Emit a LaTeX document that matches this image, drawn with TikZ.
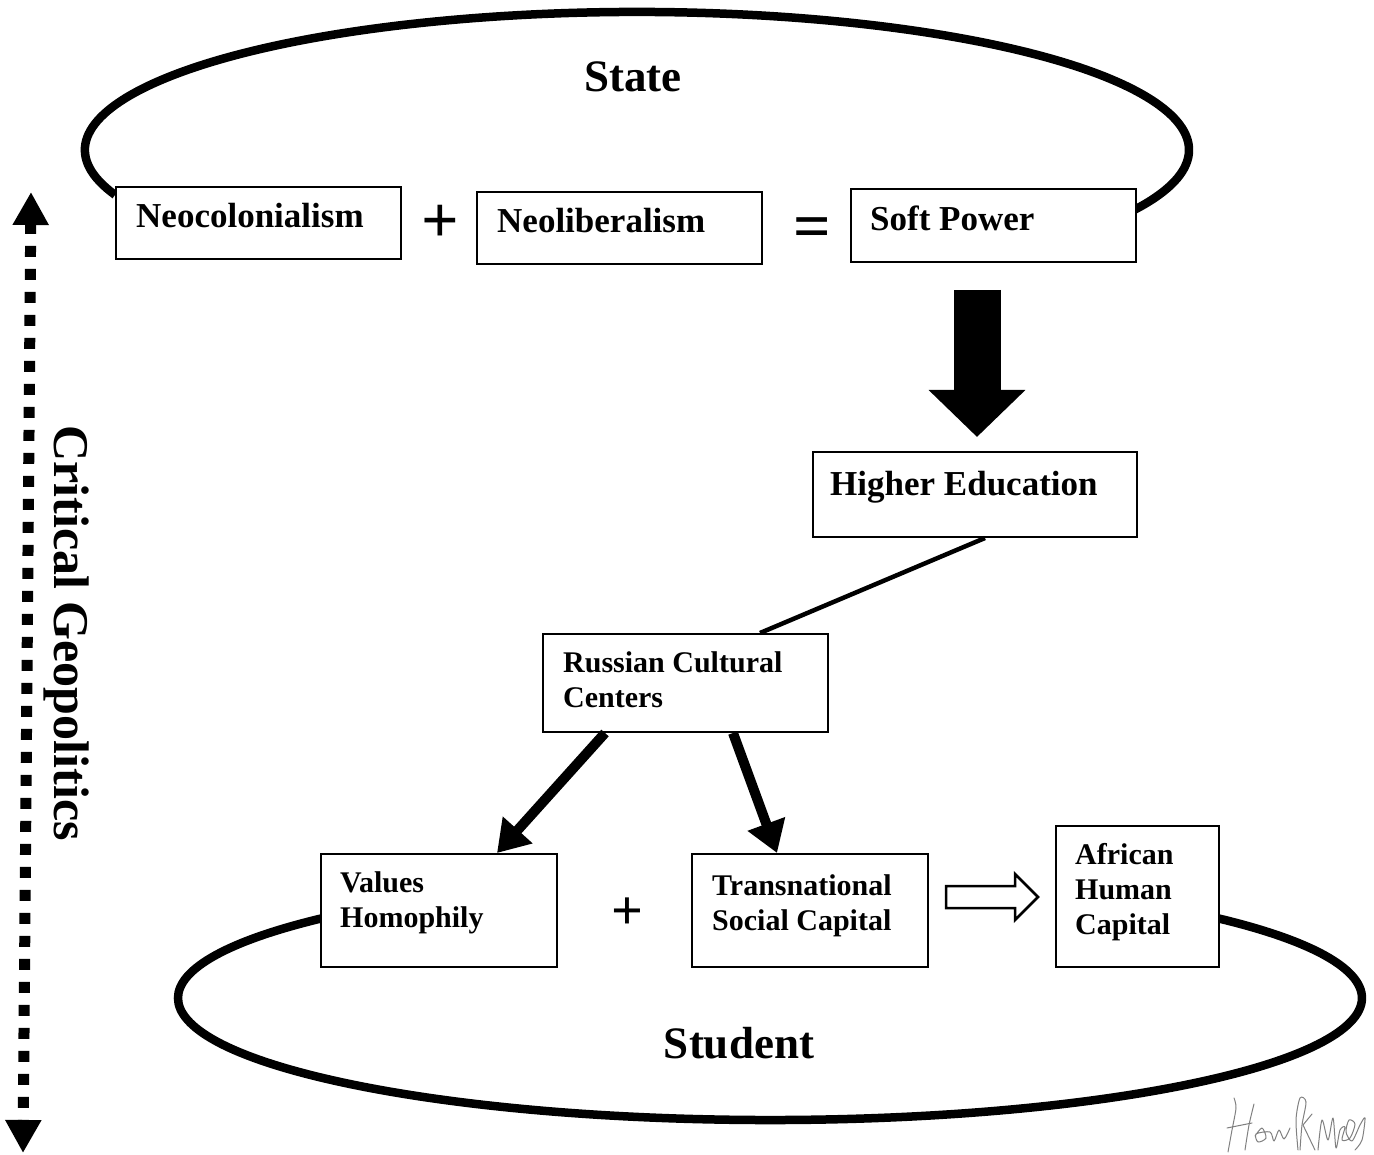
\documentclass[tikz,border=0pt]{standalone}
\usepackage{fontspec}
\setmainfont{Liberation Serif}
\usetikzlibrary{arrows.meta}
\begin{document}
\begin{tikzpicture}[x=1pt,y=-1pt,
  box/.style={draw, fill=white, line width=2pt, inner sep=0pt, anchor=north west},
  lbl/.style={inner sep=0pt, align=left, font=\fontsize{35pt}{40pt}\selectfont\bfseries},
  lbls/.style={inner sep=0pt, align=left, anchor=north west, font=\fontsize{30pt}{35pt}\selectfont\bfseries},
  big/.style={inner sep=0pt, anchor=base, font=\fontsize{45pt}{50pt}\selectfont\bfseries},
  op/.style={inner sep=0pt, anchor=base, font=\fontsize{66pt}{66pt}\selectfont\bfseries},
  ring/.style={line width=8.5pt},
  thickarrow/.style={line width=10pt, -{Triangle[length=31pt,width=38pt]}},
  sig/.style={gray, line width=1pt, line cap=round, line join=round}]
\useasboundingbox (0,0) rectangle (1374,1155);
% ellipses
\draw[ring] (115.1,194.9) arc[start angle=161, end angle=385.8, x radius=552, y radius=138];
\draw[ring] (1209.9,916.4) arc[start angle=-42, end angle=222, x radius=592, y radius=122];
% boxes
\node[box, minimum width=285pt, minimum height=72pt] (neo) at (115,186) {};
\node[box, minimum width=285pt, minimum height=72pt] (neolib) at (476,191) {};
\node[box, minimum width=285pt, minimum height=73pt] (soft) at (850,188) {};
\node[box, minimum width=324pt, minimum height=85pt] (higher) at (812,451) {};
\node[box, minimum width=285pt, minimum height=98pt] (russ) at (542,633) {};
\node[box, minimum width=236pt, minimum height=113pt] (values) at (320,853) {};
\node[box, minimum width=236pt, minimum height=113pt] (trans) at (691,853) {};
\node[box, minimum width=163pt, minimum height=141pt] (african) at (1055,825) {};
% texts
\node[lbl, anchor=base west] (neot) at (136,228) {Neocolonialism};
\node[lbl, anchor=base west] (neolibt) at (497,233) {Neoliberalism};
\node[lbl, anchor=base west] (softt) at (870,231) {Soft Power};
\node[lbl, anchor=base west] (highert) at (830,495) {Higher Education};
\node[lbls] (russt) at (563,651) {Russian Cultural\\Centers};
\node[lbls] (valuest) at (340,871) {Values\\Homophily};
\node[lbls] (transt) at (712,874) {Transnational\\Social Capital};
\node[lbls] (africant) at (1075,843) {African\\Human\\Capital};
\node[big] (state) at (633,92) {State};
\node[big] (student) at (739,1058) {Student};
\node[op] (plus1) at (440,243) {+};
\node[op] (eq) at (812,249) {=};
\node[op, font=\fontsize{56pt}{56pt}\selectfont\bfseries] (plus2) at (627,929) {+};
\node[inner sep=0pt, rotate=-90, font=\fontsize{50pt}{55pt}\selectfont\bfseries] (crit) at (67,633) {Critical Geopolitics};
% big arrow soft -> higher
\draw[line width=47pt, -{Triangle[length=47pt,width=94pt]}] ([xshift=-16.5pt, yshift=-27pt]soft.south) -- ([xshift=2pt, yshift=14pt]higher.north);
% higher -> russian line
\draw[line width=4.5pt] ([xshift=173pt]higher.south west) -- ([xshift=218pt]russ.north west);
% russian -> values / trans
\draw[thickarrow] ([xshift=63pt]russ.south west) -- ([xshift=177pt]values.north west);
\draw[thickarrow] ([xshift=191pt]russ.south west) -- ([xshift=86pt]trans.north west);
% hollow arrow trans -> african
\draw[line width=2.5pt, fill=white, line join=miter] (946,886) -- (1015,886) -- (1015,874) -- (1038,897) -- (1015,920) -- (1015,908) -- (946,908) -- cycle;
% dotted double arrow
\coordinate (dtop) at (31,192);
\coordinate (dbot) at (23,1153);
\draw[line width=11pt, dash pattern=on 11pt off 12pt, {Triangle[length=33pt,width=34pt]}-{Triangle[length=33pt,width=34pt]}] (dtop) -- (dbot);
% signature
\draw[sig] plot[smooth] coordinates {(1228,1152) (1232,1130) (1236,1108) (1234,1098)};
\draw[sig] (1227,1128) -- (1252,1123);
\draw[sig] plot[smooth] coordinates {(1245,1150) (1249,1125) (1254,1104)};
\draw[sig] plot[smooth] coordinates {(1255,1136) (1262,1128) (1266,1138) (1258,1142) (1256,1134) (1270,1132) (1274,1141) (1279,1130) (1284,1139) (1290,1128)};
\draw[sig] plot[smooth] coordinates {(1298,1150) (1296,1120) (1300,1098) (1306,1102) (1302,1125) (1300,1150)};
\draw[sig] (1303,1125) -- (1312,1114);
\draw[sig] (1303,1125) -- (1315,1150);
\draw[sig] plot[smooth] coordinates {(1318,1150) (1322,1120) (1328,1140) (1333,1118) (1336,1148) (1340,1130) (1345,1127) (1342,1140) (1350,1138) (1355,1124) (1349,1120) (1346,1132) (1352,1141) (1360,1125) (1365,1118) (1362,1140) (1355,1150)};
\end{tikzpicture}
\end{document}
